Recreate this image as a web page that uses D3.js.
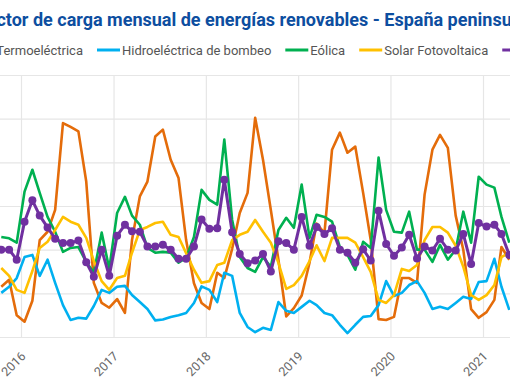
<!DOCTYPE html>
<html><head><meta charset="utf-8">
<script src="https://cdn.jsdelivr.net/npm/d3@7"></script>
<style>
html,body{margin:0;padding:0;background:#fff;overflow:hidden}
svg{display:block}
</style></head>
<body>
<svg id="chart" width="510" height="382"></svg>
<script>
// ---- data (monthly, Oct 2015 .. Apr 2021) ----
const startMonth = "2015-10";
const seriesNames = ["Solar Termoeléctrica","Hidroeléctrica de bombeo","Eólica","Solar Fotovoltaica","Total renovables"];
const seriesColors = ["#E46C0A","#00B0F0","#00B050","#FFC000","#7030A0"];
const yTicks = [0,10,20,30,40,50,60];
const yearTicks = ["2016","2017","2018","2019","2020","2021"];

const termo = [11.5,13.1,5.0,3.5,8.3,22.2,24.1,29.1,49.0,48.1,47.1,35.6,12.4,7.8,6.7,
  8.7,5.5,22.2,32.2,35.6,45.9,47.5,40.6,36.4,22.2,12.3,7.8,
  6.4,14.7,13.5,20.2,28.4,33.0,50.2,40.6,29.1,17.7,4.7,6.6,
  9.5,17.0,26.0,23.8,42.9,46.8,42.2,43.6,33.0,22.2,4.1,3.9,
  4.6,13.5,13.5,12.4,32.6,42.9,46.3,43.3,27.8,20.0,6.4,4.4,
  5.7,8.5,20.6,17.7];
const bombeo = [10.1,11.5,13.5,18.3,18.8,14.0,17.7,12.4,7.3,3.9,4.4,4.2,7.1,10.8,10.1,
  11.5,11.7,9.6,8.0,6.4,3.8,4.0,4.6,5.0,5.5,7.8,11.6,
  10.8,8.0,14.7,14.0,5.5,2.3,1.1,2.1,1.6,8.0,6.0,5.5,
  6.9,8.3,7.3,5.5,5.0,2.8,0.9,2.8,4.6,4.8,7.3,12.8,
  9.4,10.1,11.9,12.8,10.1,6.4,6.9,6.4,7.8,9.2,8.7,12.6,
  12.8,17.9,11.5,6.2];
const eolica = [22.9,22.6,21.6,33.3,38.3,33.0,27.5,24.1,19.5,20.4,20.6,17.2,14.7,23.9,15.6,
  28.4,32.1,27.8,25.7,20.4,19.3,19.5,19.3,17.0,18.1,22.9,33.7,
  31.4,30.3,45.2,26.8,18.3,15.8,14.9,18.3,16.1,24.5,27.3,25.0,
  34.9,22.7,28.0,27.5,26.4,20.6,18.8,15.4,21.8,20.4,41.1,29.1,
  24.1,23.9,28.7,20.0,20.0,17.2,21.1,17.7,20.0,28.7,21.6,36.7,
  34.9,34.2,27.5,21.6];
const fotovoltaica = [15.8,14.0,10.8,10.1,15.1,20.4,21.8,24.5,27.5,26.4,25.7,22.7,17.4,12.8,10.8,
  13.5,14.0,19.3,24.5,25.2,26.1,26.4,23.4,22.9,19.2,15.4,12.4,
  12.8,16.5,17.0,22.2,23.4,24.1,26.8,24.1,21.6,17.0,11.0,11.9,
  14.0,17.4,21.0,17.4,22.7,22.7,22.7,21.6,18.3,14.9,8.5,7.8,
  9.6,15.6,15.1,16.5,22.2,25.2,25.2,23.9,20.9,16.1,9.6,8.5,
  9.6,11.9,18.3,19.3];
const total = [20.0,20.0,17.7,26.4,31.3,27.8,25.1,22.5,21.5,21.5,22.1,17.1,13.8,20.0,14.0,
  23.2,25.7,24.2,24.1,20.7,20.7,21.1,20.0,17.9,17.9,20.7,26.9,
  24.8,24.9,36.0,24.0,19.0,16.9,17.5,19.0,15.0,21.9,21.5,20.0,
  27.5,20.9,25.2,23.6,24.9,20.0,19.3,17.0,20.1,17.5,28.9,21.3,
  18.6,20.5,23.4,18.0,20.7,19.8,22.5,20.0,19.8,23.6,16.7,26.1,
  25.3,25.7,23.6,18.8];
const seriesValues = [termo,bombeo,eolica,fotovoltaica,total];

// ---- layout ----
const W = 510, H = 382;
const plot = {left:-60, right:570, top:75, bottom:337};
const svg = d3.select("#chart");
svg.append("rect").attr("width",W).attr("height",H).attr("fill","#fff");

const x = d3.scaleTime()
  .domain([new Date(2016,0,1), new Date(2021,0,1)])
  .range([21, 483]);
const y = d3.scaleLinear().domain([0,60]).range([plot.bottom, plot.top]);

const t0 = d3.timeParse("%Y-%m")(startMonth);
const dates = d3.range(termo.length).map(i => { const d = d3.timeMonth.offset(t0, i); d.setDate(15); return d; });

// gridlines
const gy = svg.append("g").attr("transform",`translate(${plot.left},0)`)
  .call(d3.axisLeft(y).tickValues(yTicks).tickSize(-(plot.right-plot.left)).tickFormat(""));
gy.select(".domain").remove();
gy.selectAll(".tick line").attr("stroke","#e6e6e6").attr("stroke-width",1.2);

const yearDates = yearTicks.map(s => new Date(+s,0,1));
const gx = svg.append("g").attr("transform",`translate(0,${plot.bottom})`)
  .call(d3.axisBottom(x).tickValues(yearDates).tickSize(-(plot.bottom-plot.top)).tickFormat(d3.timeFormat("%Y")));
gx.select(".domain").remove();
gx.selectAll(".tick line").attr("stroke","#e6e6e6").attr("stroke-width",1.2);
gx.selectAll(".tick text")
  .attr("font-family","Roboto, 'Noto Sans', sans-serif")
  .attr("font-size",12.5).attr("fill","#666")
  .attr("text-anchor","end")
  .attr("dy",0).attr("y",0)
  .attr("transform","translate(5,20) rotate(-45)");

// lines
const line = d3.line().x((d,i)=>x(dates[i])).y(d=>y(d));
[0,1,2,3,4].forEach(k => {
  svg.append("path").datum(seriesValues[k])
    .attr("fill","none").attr("stroke",seriesColors[k])
    .attr("stroke-width", k===4 ? 3 : 2.6)
    .attr("stroke-linejoin","round")
    .attr("d",line);
});
svg.append("g").selectAll("circle").data(total).join("circle")
  .attr("cx",(d,i)=>x(dates[i])).attr("cy",d=>y(d)).attr("r",4)
  .attr("fill",seriesColors[4]);

// title
svg.append("text").attr("x",255).attr("y",26).attr("text-anchor","middle")
  .attr("font-family","Roboto, 'Noto Sans', sans-serif").attr("font-weight",700)
  .attr("font-size",18).attr("fill","#0D4EA0")
  .text("Factor de carga mensual de energías renovables - España peninsular");

// legend
const lg = svg.append("g");
const legFont = "Roboto, 'Noto Sans', sans-serif";
const legY = 50;
function legText(xp, s, anchor){
  return lg.append("text").attr("x",xp).attr("y",legY+4.5).attr("text-anchor",anchor||"start")
    .attr("font-family",legFont).attr("font-size",13).attr("fill","#555").text(s);
}
const t1 = legText(83, seriesNames[0], "end");
const w1 = t1.node().getComputedTextLength();
lg.append("line").attr("x1",83-w1-25).attr("x2",83-w1-2).attr("y1",legY).attr("y2",legY)
  .attr("stroke",seriesColors[0]).attr("stroke-width",3);
let cx = 97;
for (let k=1;k<5;k++){
  lg.append("line").attr("x1",cx).attr("x2",cx+23).attr("y1",legY).attr("y2",legY)
    .attr("stroke",seriesColors[k]).attr("stroke-width",3);
  if (k===4) lg.append("circle").attr("cx",cx+11.5).attr("cy",legY).attr("r",4).attr("fill",seriesColors[k]);
  const t = legText(cx+25, seriesNames[k]);
  cx += 25 + t.node().getComputedTextLength() + 14;
}
</script>
</body></html>
